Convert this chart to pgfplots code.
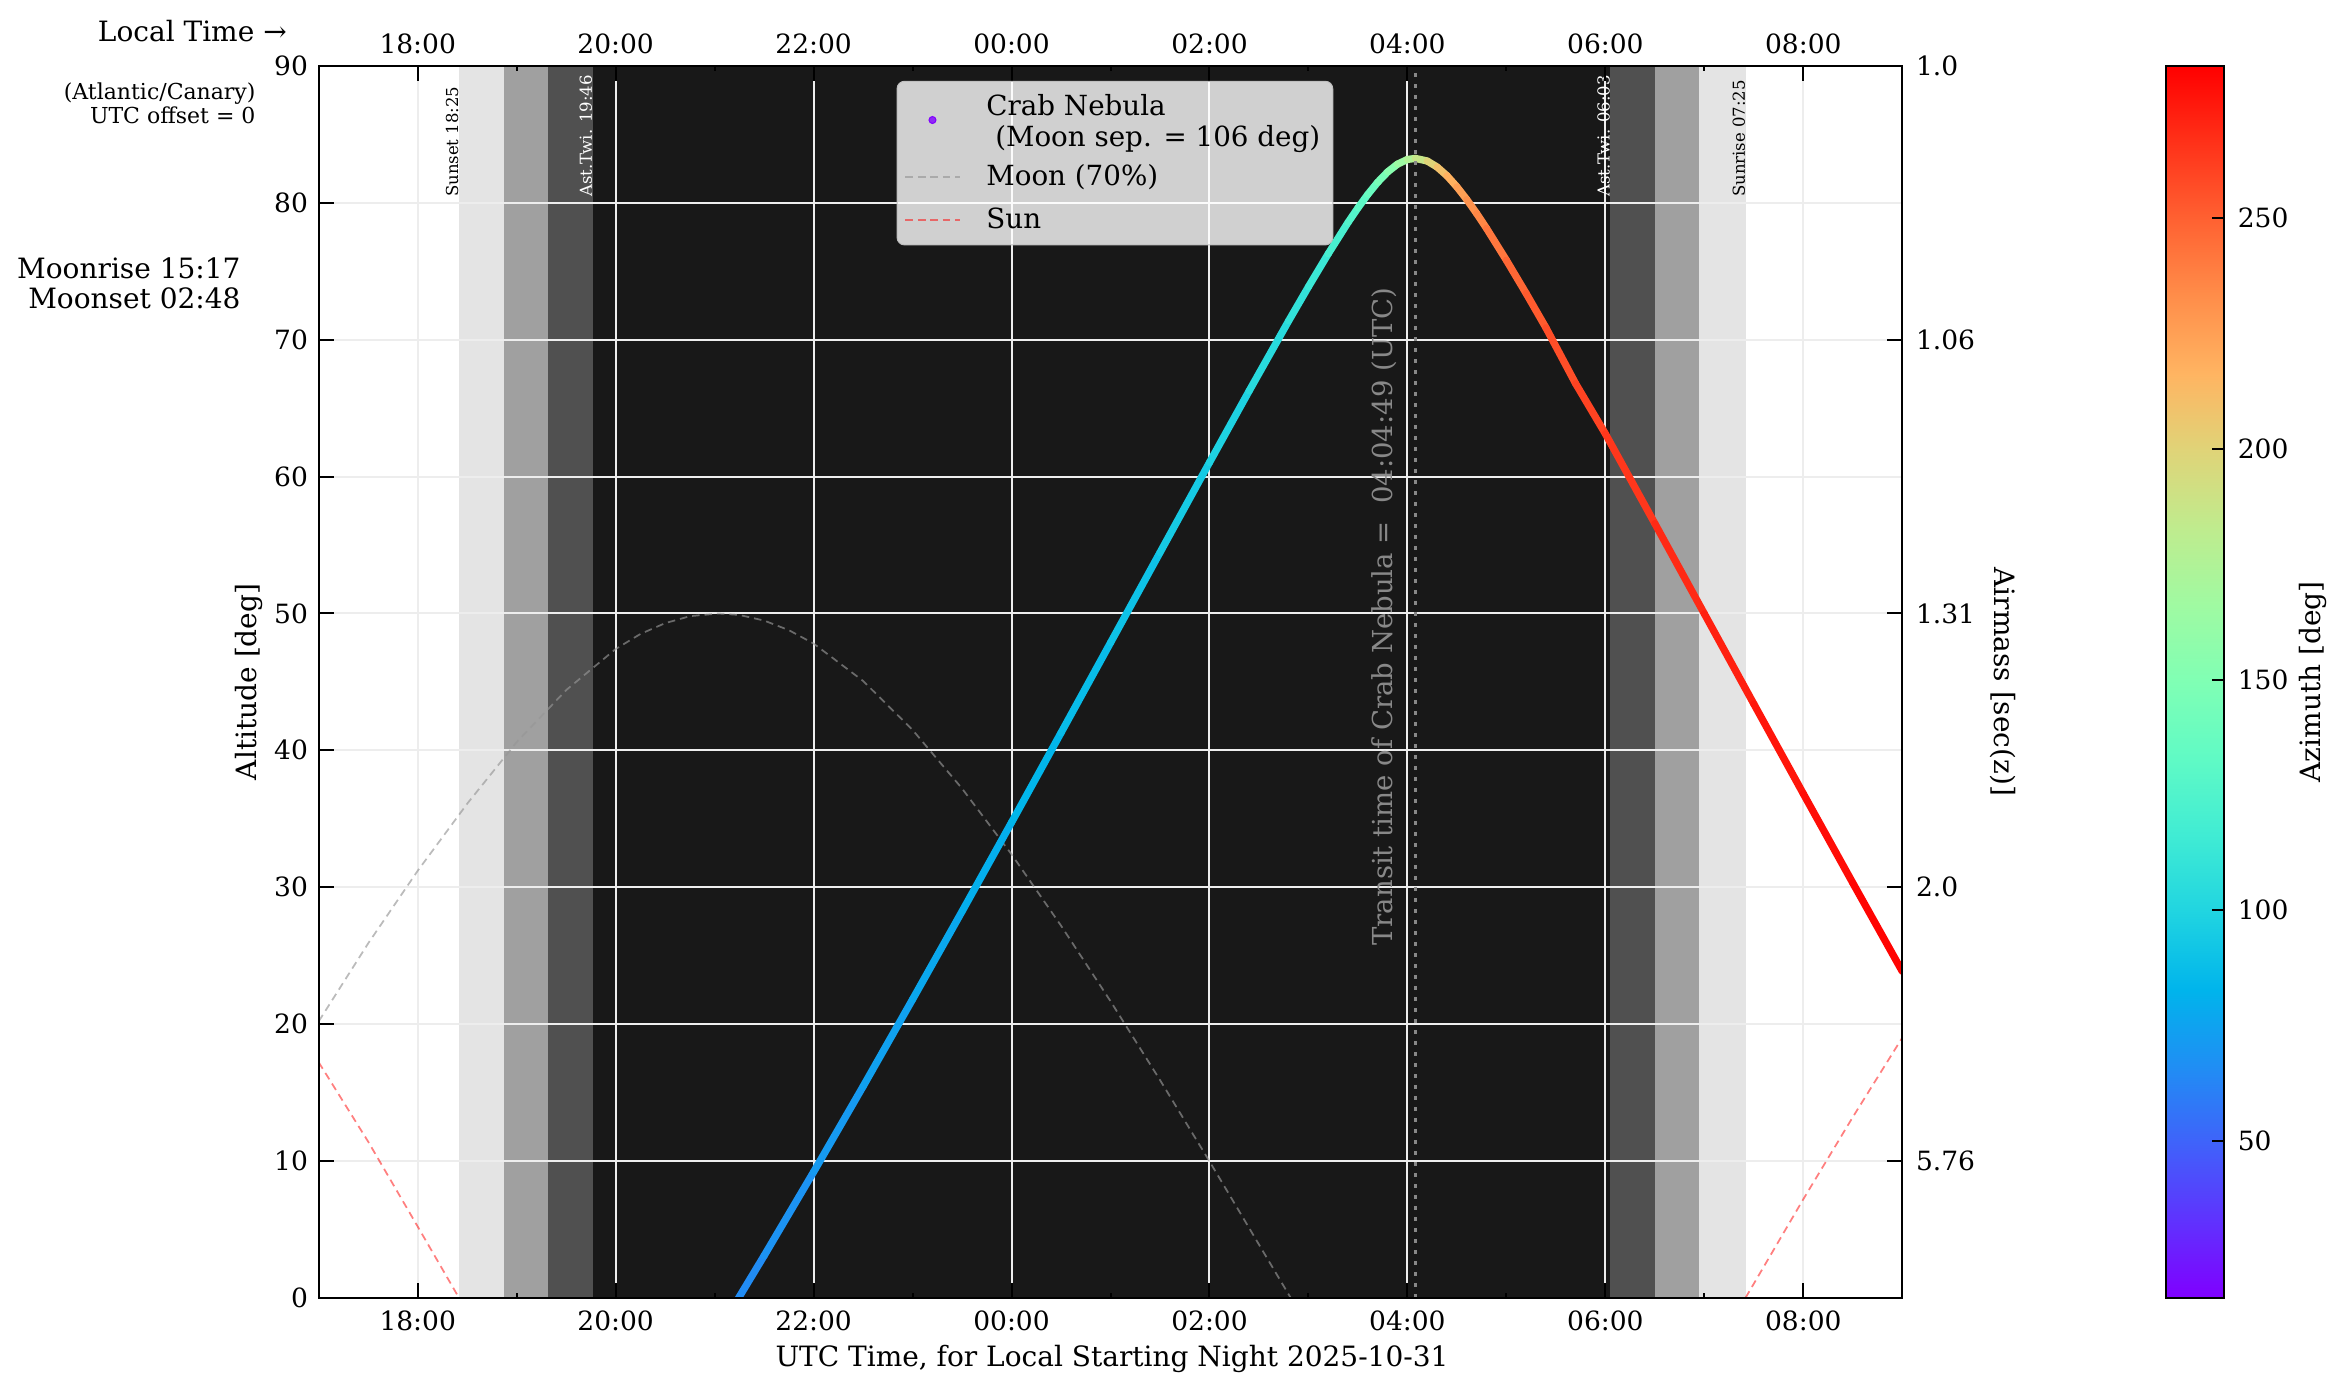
\documentclass[border=0pt]{standalone}
\usepackage{fontspec}
\setmainfont{DejaVu Serif}
\usepackage{pgfplots}
\usepackage{pgfplotstable}
\pgfplotsset{compat=1.18}

\definecolor{bandA}{RGB}{228,228,228}
\definecolor{bandB}{RGB}{160,160,160}
\definecolor{bandC}{RGB}{80,80,80}
\definecolor{night}{RGB}{24,24,24}
\definecolor{crabviolet}{RGB}{128,0,255}
\definecolor{moongray}{RGB}{150,150,150}
\definecolor{transitgray}{RGB}{136,136,136}

\pgfplotsset{colormap={mplrainbow}{rgb=(0.5,0,1) rgb=(0.375,0.195,0.995) rgb=(0.25,0.383,0.981) rgb=(0.125,0.556,0.957) rgb=(0,0.707,0.924) rgb=(0.125,0.831,0.882) rgb=(0.25,0.924,0.831) rgb=(0.375,0.981,0.773) rgb=(0.5,1,0.707) rgb=(0.625,0.981,0.634) rgb=(0.75,0.924,0.556) rgb=(0.875,0.831,0.471) rgb=(1,0.707,0.383) rgb=(1,0.556,0.290) rgb=(1,0.383,0.195) rgb=(1,0.195,0.098) rgb=(1,0,0)}}

\newcommand{\lbl}{\fontsize{11.2}{12.5}\selectfont}
\newcommand{\tck}{\fontsize{10.6}{12}\selectfont}

\pgfplotstableread{
t alt az
21.20 -0.52 64.4
21.50 3.07 66.5
22.00 9.19 69.9
22.50 15.44 73.0
23.00 21.80 76.1
23.50 28.23 79.0
24.00 34.73 82.0
24.50 41.28 85.0
25.00 47.86 88.3
25.50 54.45 91.9
26.00 61.03 96.2
26.40 66.25 100.7
26.80 71.38 106.9
27.00 73.87 111.0
27.20 76.28 116.5
27.40 78.57 123.9
27.50 79.63 128.6
27.60 80.62 134.4
27.70 81.51 141.3
27.80 82.26 149.7
27.90 82.83 159.5
28.00 83.17 170.6
28.08 83.25 180.0
28.20 83.06 194.0
28.30 82.62 204.6
28.40 81.98 213.9
28.50 81.17 221.6
28.60 80.24 228.1
28.70 79.22 233.4
28.80 78.13 237.8
29.00 75.81 244.8
29.20 73.38 249.9
29.40 70.87 253.9
29.70 66.79 258.6
30.00 63.13 262.1
30.50 56.57 266.8
31.00 49.98 270.6
31.50 43.39 274.0
32.00 36.83 277.1
32.50 30.31 280.0
33.00 23.85 283.0
}\crab

\pgfplotstableread{
t alt
17.00 20.20
17.50 25.90
18.00 31.20
18.50 36.10
19.00 40.60
19.50 44.40
20.00 47.40
20.25 48.50
20.50 49.29
20.75 49.80
21.04 50.00
21.25 49.89
21.50 49.48
21.75 48.78
22.00 47.80
22.50 45.07
23.00 41.49
23.50 37.21
24.00 32.40
24.50 27.19
25.00 21.67
25.50 15.91
26.00 9.97
26.50 3.89
26.82 0.00
}\moon

\pgfplotstableread{
t alt
17.00 17.2
17.50 11.4
18.00 5.2
18.4167 0.0
}\sunA

\pgfplotstableread{
t alt
31.4167 0.0
32.00 7.2
32.50 13.2
33.00 19.0
}\sunB

\pgfplotstableread{
x y c
0 16 16
1 16 16
1 283 283
0 16 16
1 283 283
0 283 283
}\cbar

\begin{document}
\begin{tikzpicture}
\begin{axis}[
  at={(0pt,0pt)}, anchor=south west,
  scale only axis, width=633.4pt, height=492.7pt,
  set layers,
  xmin=17, xmax=33, ymin=0, ymax=90,
  xtick={18,20,...,32},
  xticklabels={18:00,20:00,22:00,00:00,02:00,04:00,06:00,08:00},
  minor x tick num=1,
  ytick={0,10,...,90},
  yticklabels={0,10,20,30,40,50,60,70,80,90},
  xtick pos=left, ytick pos=left,
  tick align=inside,
  major tick length=6pt, minor tick length=2pt,
  tick style={black, line width=0.8pt},
  axis line style={line width=0.9pt},
  grid=major,
  major grid style={draw=black!7, line width=0.8pt},
  tick label style={font=\tck},
  xticklabel style={yshift=-1.5pt},
  yticklabel style={xshift=-0.8pt},
  colormap name=mplrainbow,
  point meta min=16, point meta max=283,
  legend image code/.code={\draw[mark repeat=2, mark phase=2, #1] plot coordinates {(0cm,0cm) (0.38cm,0cm) (0.76cm,0cm)};},
  legend cell align=left,
  legend style={at={(0.3649,0.988)}, anchor=north west,
    fill=white, fill opacity=0.8, draw opacity=1, text opacity=1,
    draw=black!25, rounded corners=3pt,
    font=\fontsize{11.1}{12.3}\selectfont,
    row sep=3.4pt, inner xsep=3pt, inner ysep=3pt,
    /tikz/every odd column/.append style={column sep=8.4pt}},
]
% twilight bands
\addplot[fill=bandA, draw=none, on layer=axis background, forget plot] coordinates {(18.4167,0) (18.4167,90) (31.4167,90) (31.4167,0)} -- cycle;
\addplot[fill=bandB, draw=none, on layer=axis background, forget plot] coordinates {(18.87,0) (18.87,90) (30.95,90) (30.95,0)} -- cycle;
\addplot[fill=bandC, draw=none, on layer=axis background, forget plot] coordinates {(19.32,0) (19.32,90) (30.50,90) (30.50,0)} -- cycle;
\addplot[fill=night, draw=none, on layer=axis background, forget plot] coordinates {(19.767,0) (19.767,90) (30.05,90) (30.05,0)} -- cycle;

\addlegendimage{only marks, mark=*, mark size=1.4pt, crabviolet}
\addlegendentry{\begin{tabular}{@{}l@{}}Crab Nebula\\\hspace*{0.32em}(Moon sep. = 106 deg)\rule[-12.6pt]{0pt}{12.6pt}\end{tabular}}

\addplot[moongray, opacity=0.65, line width=0.7pt, dash pattern=on 3pt off 2pt] table[x=t, y=alt] {\moon};
\addlegendentry{Moon (70\%)}
\addplot[red, opacity=0.5, line width=0.7pt, dash pattern=on 3pt off 2pt] table[x=t, y=alt] {\sunA};
\addlegendentry{Sun}
\addplot[red, opacity=0.5, line width=0.7pt, dash pattern=on 3pt off 2pt, forget plot] table[x=t, y=alt] {\sunB};

\addplot[mesh, point meta=explicit, line width=2.9pt, line cap=round, forget plot] table[x=t, y=alt, meta=az] {\crab};

\addplot[transitgray, line width=1.3pt, dash pattern=on 1.4pt off 3pt, forget plot] coordinates {(28.08,0) (28.08,90)};

\node[rotate=90, anchor=south west, inner sep=0pt, text=transitgray, font=\fontsize{11.0}{12}\selectfont] at (axis cs:27.90,25.7) {Transit time of Crab Nebula =\ \ 04:04:49 (UTC)};

\node[rotate=90, anchor=south west, inner sep=0pt, font=\fontsize{6.6}{7}\selectfont] at (axis cs:18.4167,80.4) {Sunset 18:25};
\node[rotate=90, anchor=south west, inner sep=0pt, text=white, font=\fontsize{6.6}{7}\selectfont] at (axis cs:19.767,80.4) {Ast.Twi. 19:46};
\node[rotate=90, anchor=south west, inner sep=0pt, text=white, font=\fontsize{6.6}{7}\selectfont] at (axis cs:30.05,80.4) {Ast.Twi. 06:03};
\node[rotate=90, anchor=south west, inner sep=0pt, font=\fontsize{6.6}{7}\selectfont] at (axis cs:31.4167,80.4) {Sunrise 07:25};
\end{axis}

\begin{axis}[
  at={(0pt,0pt)}, anchor=south west,
  scale only axis, width=633.4pt, height=492.7pt,
  xmin=17, xmax=33, ymin=0, ymax=90,
  xtick={18,20,...,32},
  xticklabels={18:00,20:00,22:00,00:00,02:00,04:00,06:00,08:00},
  minor x tick num=1,
  ytick={10,30,50,70,90},
  yticklabels={5.76,2.0,1.31,1.06,1.0},
  xtick pos=right, ytick pos=right,
  xticklabel pos=right, yticklabel pos=right,
  tick align=inside,
  major tick length=6pt, minor tick length=2pt,
  tick style={black, line width=0.8pt},
  axis line style={line width=0.9pt},
  tick label style={font=\tck},
  xticklabel style={yshift=1.5pt},
  yticklabel style={xshift=2pt},
]
\addplot[draw=none, forget plot] coordinates {(17,0) (33,90)};
\end{axis}

\begin{axis}[
  at={(738.9pt,0pt)}, anchor=south west,
  scale only axis, width=23.2pt, height=492.7pt,
  xmin=0, xmax=1, ymin=16, ymax=283,
  xtick=\empty,
  ytick={50,100,150,200,250},
  yticklabels={50,100,150,200,250},
  ytick pos=right, yticklabel pos=right,
  tick align=inside, major tick length=5pt,
  tick style={black, line width=0.8pt},
  axis line style={line width=0.9pt},
  axis on top,
  tick label style={font=\tck},
  yticklabel style={xshift=2pt},
  colormap name=mplrainbow,
  point meta min=16, point meta max=283,
]
\addplot[patch, shader=interp, point meta=explicit, forget plot] table[x=x, y=y, meta=c] {\cbar};
\end{axis}

\node[rotate=90, font=\lbl] at (-27.9pt,246.35pt) {Altitude [deg]};
\node[font=\lbl] at (317.3pt,-24.5pt) {UTC Time, for Local Starting Night 2025-10-31};
\node[rotate=-90, font=\lbl] at (673.7pt,246.35pt) {Airmass [sec(z)]};
\node[rotate=90, font=\lbl] at (797.7pt,246.35pt) {Azimuth [deg]};
\node[anchor=east, inner sep=0pt, font=\lbl] at (-12.6pt,506.5pt) {Local Time →};
\node[anchor=east, inner sep=0pt, align=right, font=\fontsize{8.8}{9.6}\selectfont] at (-25.1pt,477.8pt) {(Atlantic/Canary)\\UTC offset = 0};
\node[anchor=east, inner sep=0pt, align=right, font=\fontsize{11.2}{12}\selectfont] at (-31.1pt,405.9pt) {Moonrise 15:17\\Moonset 02:48};
\pgfresetboundingbox
\path[use as bounding box] (-127.5pt,-38.5pt) rectangle (811.3pt,519.1pt);
\end{tikzpicture}
\end{document}
